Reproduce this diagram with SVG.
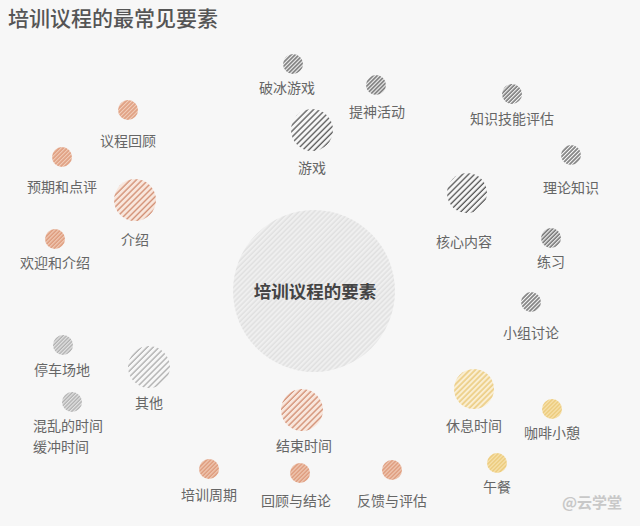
<svg xmlns="http://www.w3.org/2000/svg" width="640" height="526" viewBox="0 0 640 526">
<defs>
<pattern id="hDarkL" width="4.2" height="4.2" patternUnits="userSpaceOnUse" patternTransform="rotate(45)"><line x1="1" y1="0" x2="1" y2="4.2" stroke="#4a4a4a" stroke-width="1.2"/></pattern>
<pattern id="hDarkS" width="2.8" height="2.8" patternUnits="userSpaceOnUse" patternTransform="rotate(45)"><line x1="1" y1="0" x2="1" y2="2.8" stroke="#444" stroke-width="1.15"/></pattern>
<pattern id="hOrL" width="4.2" height="4.2" patternUnits="userSpaceOnUse" patternTransform="rotate(45)"><rect width="4.2" height="4.2" fill="#f8e6dc"/><line x1="1" y1="0" x2="1" y2="4.2" stroke="#cc8062" stroke-width="1.15"/></pattern>
<pattern id="hOrS" width="2.8" height="2.8" patternUnits="userSpaceOnUse" patternTransform="rotate(45)"><rect width="2.8" height="2.8" fill="#f1cdb9"/><line x1="1" y1="0" x2="1" y2="2.8" stroke="#d5825f" stroke-width="1.05"/></pattern>
<pattern id="hYeL" width="3.8" height="3.8" patternUnits="userSpaceOnUse" patternTransform="rotate(45)"><rect width="3.8" height="3.8" fill="#faeed2"/><line x1="1" y1="0" x2="1" y2="3.8" stroke="#e6bf62" stroke-width="1.15"/></pattern>
<pattern id="hYeS" width="2.8" height="2.8" patternUnits="userSpaceOnUse" patternTransform="rotate(45)"><rect width="2.8" height="2.8" fill="#f8e4b2"/><line x1="1" y1="0" x2="1" y2="2.8" stroke="#e6bf62" stroke-width="1.05"/></pattern>
<pattern id="hGrL" width="4.2" height="4.2" patternUnits="userSpaceOnUse" patternTransform="rotate(45)"><line x1="1" y1="0" x2="1" y2="4.2" stroke="#999" stroke-width="1.05"/></pattern>
<pattern id="hGrS" width="2.6" height="2.6" patternUnits="userSpaceOnUse" patternTransform="rotate(45)"><rect width="2.6" height="2.6" fill="#e4e4e4"/><line x1="1" y1="0" x2="1" y2="2.6" stroke="#999" stroke-width="0.95"/></pattern>
<pattern id="hCenter" width="3.6" height="3.6" patternUnits="userSpaceOnUse" patternTransform="rotate(45)"><rect width="3.6" height="3.6" fill="#efefef"/><line x1="1" y1="0" x2="1" y2="3.6" stroke="#d9d9d9" stroke-width="1"/></pattern>
</defs>
<style>
text{font-family:"Noto Sans CJK SC","Noto Sans",sans-serif;}
.lbl{font-size:14px;fill:#666;text-anchor:middle;}
.title{font-size:21px;fill:#555;font-weight:500;}
.center{font-size:17.5px;fill:#444;font-weight:bold;text-anchor:middle;}
.wm{font-size:15px;fill:#c8c8c8;font-weight:bold;}
</style>
<rect width="640" height="526" fill="#f7f7f7"/>
<text class="title" x="8" y="26">培训议程的最常见要素</text>
<g id="connectors"></g>
<g id="center"><circle cx="314" cy="291" r="81" fill="url(#hCenter)"/><text class="center" x="315" y="298">培训议程的要素</text></g>
<g id="n-pobing"><circle cx="293" cy="64" r="10" fill="url(#hDarkS)"/><text class="lbl" x="287" y="93">破冰游戏</text></g>
<g id="n-tishen"><circle cx="376" cy="85" r="10" fill="url(#hDarkS)"/><text class="lbl" x="377" y="117">提神活动</text></g>
<g id="n-youxi"><circle cx="312" cy="130" r="21" fill="url(#hDarkL)"/><text class="lbl" x="312" y="173">游戏</text></g>
<g id="n-zhishi"><circle cx="512" cy="94" r="10" fill="url(#hDarkS)"/><text class="lbl" x="512" y="124">知识技能评估</text></g>
<g id="n-lilun"><circle cx="571" cy="155" r="10" fill="url(#hDarkS)"/><text class="lbl" x="571" y="193">理论知识</text></g>
<g id="n-hexin"><circle cx="467" cy="193" r="20" fill="url(#hDarkL)"/><text class="lbl" x="464" y="247">核心内容</text></g>
<g id="n-lianxi"><circle cx="551" cy="238" r="10" fill="url(#hDarkS)"/><text class="lbl" x="551" y="267">练习</text></g>
<g id="n-xiaozu"><circle cx="531" cy="302" r="10" fill="url(#hDarkS)"/><text class="lbl" x="531" y="338">小组讨论</text></g>
<g id="n-yicheng"><circle cx="128" cy="110" r="10" fill="url(#hOrS)"/><text class="lbl" x="128" y="146">议程回顾</text></g>
<g id="n-yuqi"><circle cx="62" cy="157" r="10" fill="url(#hOrS)"/><text class="lbl" x="62" y="192">预期和点评</text></g>
<g id="n-jieshao"><circle cx="135" cy="200" r="21" fill="url(#hOrL)"/><text class="lbl" x="135" y="245">介绍</text></g>
<g id="n-huanying"><circle cx="55" cy="239" r="10" fill="url(#hOrS)"/><text class="lbl" x="55" y="268">欢迎和介绍</text></g>
<g id="n-tingche"><circle cx="63" cy="345" r="10" fill="url(#hGrS)"/><text class="lbl" x="62" y="375">停车场地</text></g>
<g id="n-qita"><circle cx="149" cy="367" r="21" fill="url(#hGrL)"/><text class="lbl" x="149" y="408">其他</text></g>
<g id="n-hunluan"><circle cx="72" cy="402" r="10" fill="url(#hGrS)"/><text class="lbl" x="33" y="431" style="text-anchor:start">混乱的时间</text><text class="lbl" x="33" y="452" style="text-anchor:start">缓冲时间</text></g>
<g id="n-jieshu"><circle cx="302" cy="410" r="21" fill="url(#hOrL)"/><text class="lbl" x="304" y="451">结束时间</text></g>
<g id="n-zhouqi"><circle cx="209" cy="469" r="10" fill="url(#hOrS)"/><text class="lbl" x="209" y="500">培训周期</text></g>
<g id="n-huigu"><circle cx="300" cy="473" r="10" fill="url(#hOrS)"/><text class="lbl" x="296" y="506">回顾与结论</text></g>
<g id="n-fankui"><circle cx="392" cy="470" r="10" fill="url(#hOrS)"/><text class="lbl" x="392" y="506">反馈与评估</text></g>
<g id="n-xiuxi"><circle cx="474" cy="389" r="20" fill="url(#hYeL)"/><text class="lbl" x="474" y="431">休息时间</text></g>
<g id="n-kafei"><circle cx="552" cy="409" r="10" fill="url(#hYeS)"/><text class="lbl" x="552" y="438">咖啡小憩</text></g>
<g id="n-wucan"><circle cx="497" cy="463" r="10" fill="url(#hYeS)"/><text class="lbl" x="497" y="492">午餐</text></g>
<text class="wm" x="562" y="508">@云学堂</text>
</svg>
